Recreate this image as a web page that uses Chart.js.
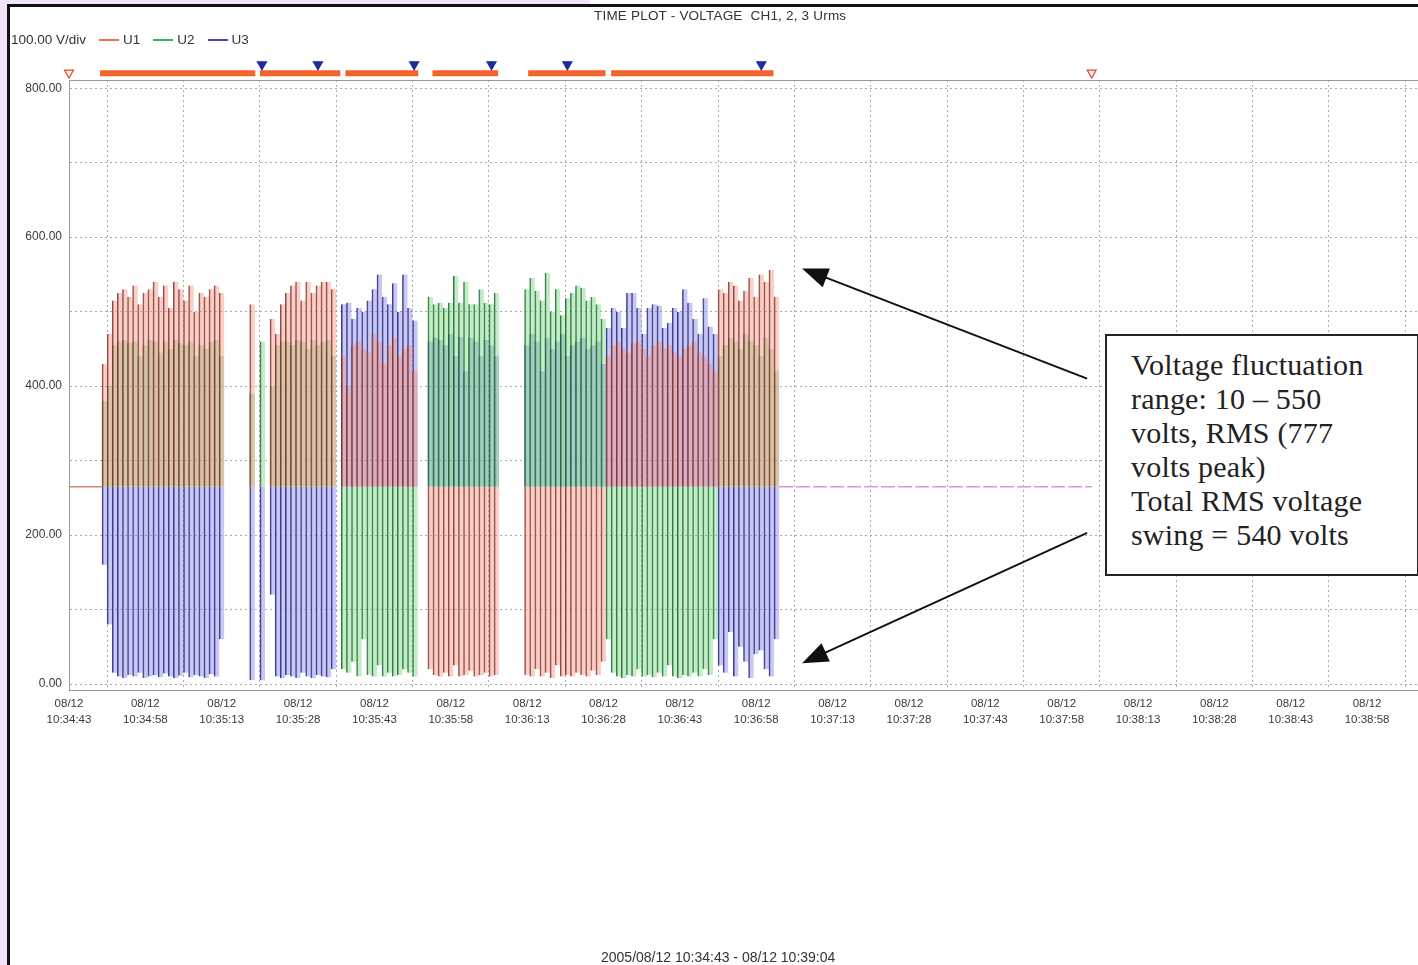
<!DOCTYPE html>
<html>
<head>
<meta charset="utf-8">
<script src="https://cdn.jsdelivr.net/npm/chart.js@4.4.1/dist/chart.umd.min.js"></script>
<style>
  body { margin: 0; background: #efe4f8; font-family: Arial, "Liberation Sans", sans-serif; }
  #frame { position: absolute; left: 7px; top: 4px; width: 1420px; height: 970px; background: #fff;
           border-top: 3px solid #111; border-left: 3px solid #111; }
  #topwhite { position: absolute; left: 590px; top: 0; width: 900px; height: 4px; background: #fff; }
  #chart { position: absolute; left: 0; top: 0; }
  .txt { position: absolute; font-size: 12px; color: #333; white-space: nowrap; }
  #legend span.ln { display: inline-block; width: 20px; height: 2px; vertical-align: middle; margin: 0 4px 0 13px; }
  #note { position: absolute; left: 1105px; top: 334px; width: 286px; height: 218px; background: #fff;
          border: 2px solid #222; padding: 12px 0 8px 24px; letter-spacing: 0.2px;
          font-family: "Liberation Serif", "Times New Roman", serif; font-size: 30px; line-height: 34px; color: #222; }
</style>
</head>
<body>
<div id="frame"></div>
<div id="topwhite"></div>
<canvas id="chart" width="1418" height="965"></canvas>
<div class="txt" style="left:594px; top:8px; font-size:13.5px; letter-spacing:0.2px;">TIME PLOT - VOLTAGE&nbsp; CH1, 2, 3 Urms</div>
<div class="txt" id="legend" style="left:11px; top:32px; font-size:13.5px;">100.00 V/div<span class="ln" style="background:#e8704a"></span>U1<span class="ln" style="background:#2cb05a"></span>U2<span class="ln" style="background:#4a4aa8"></span>U3</div>
<div class="txt" style="left:601px; top:949px; font-size:14px;">2005/08/12 10:34:43 - 08/12 10:39:04</div>
<div id="note">Voltage fluctuation<br>range: 10 &ndash; 550<br>volts, RMS (777<br>volts peak)<br>Total RMS voltage<br>swing = 540 volts</div>
<script>
// seconds after 10:34:43, one sample per second
const SAMPLE_START = 7;
const BASE = 265; // idle RMS level, bars are drawn from here to the sample value

const u1 = [
  // t 7-30
  430, 470, 515, 525, 530, 520, 535, 510, 525, 530, 540, 520, 535, 505, 540, 530, 515, 535, 500, 525, 520, 530, 535, 525,
  // t 31-39
  null, null, null, null, null, 510, null, null, null,
  // t 40-52
  490, 470, 510, 525, 535, 540, 515, 540, 525, 535, 540, 540, 530,
  null,
  // t 54-68
  440, 400, 455, 460, 450, 445, 470, 460, 430, 455, 465, 440, 450, 455, 420,
  null, null,
  // t 71-84
  20, 12, 10, 15, 10, 25, 10, 12, 18, 10, 12, 15, 10, 12,
  null, null, null, null, null,
  // t 90-105
  12, 10, 20, 10, 15, 8, 25, 10, 12, 10, 15, 12, 10, 18, 12, 30,
  // t 106-127
  440, 455, 460, 450, 445, 458, 460, 450, 440, 455, 460, 450, 455, 445, 440, 450, 455, 460, 445, 440, 430, 420,
  // t 128-139
  530, 525, 540, 535, 515, 528, 545, 520, 550, 540, 556, 520
];
const u2 = [
  380, 400, 455, 460, 462, 458, 460, 440, 455, 462, 460, 445, 460, 450, 462, 458, 455, 460, 440, 455, 450, 460, 462, 440,
  null, null, null, null, null, 390, null, 460, null,
  400, 455, 460, 460, 455, 462, 460, 450, 462, 455, 460, 462, 440,
  null,
  20, 15, 30, 10, 60, 12, 10, 25, 10, 15, 10, 12, 20, 15, 10,
  null, null,
  520, 510, 512, 505, 512, 548, 512, 540, 510, 510, 530, 512, 510, 525,
  null, null, null, null, null,
  530, 545, 528, 515, 552, 500, 530, 495, 518, 525, 535, 532, 515, 520, 510, 490,
  60, 15, 10, 8, 12, 10, 20, 10, 12, 9, 15, 10, 25, 10, 8, 12, 10, 15, 10, 20, 12, 60,
  440, 455, 465, 460, 450, 470, 460, 455, 440, 465, 450, 420
];
const u3 = [
  160, 80, 15, 10, 8, 12, 10, 15, 8, 10, 12, 9, 14, 10, 8, 11, 15, 9, 12, 10, 8, 13, 10, 60,
  null, null, null, null, null, 5, null, 5, null,
  120, 10, 8, 12, 10, 8, 15, 10, 8, 12, 10, 9, 20,
  null,
  510, 512, 490, 505, 500, 515, 530, 550, 520, 510, 538, 500, 550, 505, 488,
  null, null,
  460, 465, 462, 455, 470, 440, 466, 420, 465, 460, 440, 462, 455, 440,
  null, null, null, null, null,
  455, 470, 460, 420, 465, 450, 460, 470, 440, 455, 460, 465, 450, 455, 460, 430,
  478, 505, 500, 478, 525, 525, 505, 470, 505, 510, 508, 478, 485, 505, 500, 530, 512, 490, 470, 518, 480, 470,
  25, 15, 70, 10, 50, 30, 8, 40, 45, 20, 10, 60
];

// idle stretches at the BASE level (seconds)
const idleBefore = [0, 6.5];
const idleAfter = [139.5, 201];

// event markers along the top
const recordSpans = [[6.1, 36.6], [37.5, 53.3], [54.3, 68.6], [71.4, 84.3], [90.2, 105.4], [106.5, 138.4]];
const blueMarks = [37.9, 48.9, 67.8, 83.0, 97.9, 136.0];
const redMarks = [0, 200.9];

const xTickTimes = ['10:34:43', '10:34:58', '10:35:13', '10:35:28', '10:35:43', '10:35:58', '10:36:13', '10:36:28',
  '10:36:43', '10:36:58', '10:37:13', '10:37:28', '10:37:43', '10:37:58', '10:38:13', '10:38:28', '10:38:43', '10:38:58'];
const yTickLabels = ['0.00', '200.00', '400.00', '600.00', '800.00'];

// arrows from the note box to the swing extremes, in data units
const arrows = [
  { from: [200, 410], to: [144, 558] },
  { from: [200, 203], to: [144, 28] }
];

function toBars(vals) {
  const out = [];
  vals.forEach((v, i) => { if (v != null) out.push({ x: SAMPLE_START + i, y: [BASE, v] }); });
  return out;
}
function barSet(label, vals, fill, line) {
  return {
    type: 'bar', label, data: toBars(vals), grouped: false,
    backgroundColor: fill, borderColor: line,
    borderWidth: { left: 1, right: 0, top: 0, bottom: 0 }, borderSkipped: false,
    categoryPercentage: 1, barPercentage: 1, order: 3
  };
}

const markerY = 820;
const spanData = [];
recordSpans.forEach(s => { spanData.push({ x: s[0], y: markerY }, { x: s[1], y: markerY }, { x: s[1], y: null }); });

function downTriangle(ctx, x, y, fill, stroke) {
  ctx.beginPath();
  ctx.moveTo(x - 4.5, y - 4);
  ctx.lineTo(x + 4.5, y - 4);
  ctx.lineTo(x, y + 4);
  ctx.closePath();
  ctx.fillStyle = fill;
  ctx.fill();
  ctx.strokeStyle = stroke;
  ctx.lineWidth = 1.2;
  ctx.stroke();
}

const plotFrame = {
  id: 'plotFrame',
  afterDatasetsDraw(chart) {
    const { ctx, chartArea: a, scales } = chart;
    ctx.save();
    ctx.strokeStyle = '#9a9a9a';
    ctx.lineWidth = 1;
    ctx.beginPath();
    ctx.moveTo(a.left, a.top + 0.5);
    ctx.lineTo(a.right, a.top + 0.5);
    ctx.stroke();
    blueMarks.forEach(t => downTriangle(ctx, scales.x.getPixelForValue(t), scales.y.getPixelForValue(830), '#1f2c9a', '#1f2c9a'));
    redMarks.forEach(t => downTriangle(ctx, scales.x.getPixelForValue(t), scales.y.getPixelForValue(819), 'rgba(255,240,230,0.9)', '#e04a30'));
    ctx.fillStyle = '#111';
    ctx.strokeStyle = '#111';
    arrows.forEach(ar => {
      const x0 = scales.x.getPixelForValue(ar.from[0]), y0 = scales.y.getPixelForValue(ar.from[1]);
      const x1 = scales.x.getPixelForValue(ar.to[0]), y1 = scales.y.getPixelForValue(ar.to[1]);
      const ang = Math.atan2(y1 - y0, x1 - x0);
      const len = 26, hw = 10;
      ctx.lineWidth = 2;
      ctx.beginPath();
      ctx.moveTo(x0, y0);
      ctx.lineTo(x1 - Math.cos(ang) * len * 0.8, y1 - Math.sin(ang) * len * 0.8);
      ctx.stroke();
      ctx.beginPath();
      ctx.moveTo(x1, y1);
      ctx.lineTo(x1 - Math.cos(ang) * len - Math.sin(ang) * hw, y1 - Math.sin(ang) * len + Math.cos(ang) * hw);
      ctx.lineTo(x1 - Math.cos(ang) * len + Math.sin(ang) * hw, y1 - Math.sin(ang) * len - Math.cos(ang) * hw);
      ctx.closePath();
      ctx.fill();
    });
    ctx.restore();
  }
};

new Chart(document.getElementById('chart'), {
  type: 'bar',
  data: {
    datasets: [
      barSet('U1', u1, 'rgba(245,140,120,0.42)', 'rgba(120,55,55,0.9)'),
      barSet('U2', u2, 'rgba(110,215,120,0.42)', 'rgba(35,100,55,0.9)'),
      barSet('U3', u3, 'rgba(125,125,230,0.42)', 'rgba(40,40,120,0.9)'),
      { type: 'line', label: 'idle', data: [{ x: idleBefore[0], y: BASE }, { x: idleBefore[1], y: BASE }],
        borderColor: '#d9837a', borderWidth: 1.5, pointRadius: 0, order: 2 },
      { type: 'line', label: 'idle2', data: [{ x: idleAfter[0], y: BASE }, { x: idleAfter[1], y: BASE }],
        borderColor: '#c9a0d8', borderWidth: 1.5, borderDash: [14, 3], pointRadius: 0, order: 2 },
      { type: 'line', label: 'rec', data: spanData, borderColor: '#f2642a', borderWidth: 6,
        pointRadius: 0, spanGaps: false, clip: false, order: 1 }
    ]
  },
  options: {
    responsive: false,
    animation: false,
    devicePixelRatio: 1,
    layout: { padding: { left: 0, right: 0, top: 80, bottom: 235 } },
    plugins: { legend: { display: false }, tooltip: { enabled: false } },
    scales: {
      x: {
        type: 'linear', min: 0, max: 265, offset: false,
        afterBuildTicks: s => { s.ticks = xTickTimes.map((_, i) => ({ value: i * 15 })); },
        afterFit: s => { s.height = 40; },
        grid: { color: 'rgba(140,140,140,0.75)', drawTicks: false },
        border: { color: '#9a9a9a', dash: [2, 3] },
        ticks: {
          autoSkip: false, maxRotation: 0, padding: 6, color: '#3a3a3a',
          font: { size: 11.5, family: 'Arial, "Liberation Sans", sans-serif', lineHeight: 1.4 },
          callback: v => ['08/12', xTickTimes[Math.round(v / 15)]]
        }
      },
      y: {
        min: -8, max: 811,
        afterBuildTicks: s => { s.ticks = [0, 100, 200, 300, 400, 500, 600, 700, 800].map(v => ({ value: v })); },
        afterFit: s => { s.width = 69; },
        grid: { color: 'rgba(140,140,140,0.75)', drawTicks: false },
        border: { color: '#9a9a9a', dash: [2, 3] },
        ticks: {
          padding: 7, color: '#3a3a3a', font: { size: 12, family: 'Arial, "Liberation Sans", sans-serif' },
          callback: v => (v % 200 === 0 ? yTickLabels[v / 200] : '')
        }
      }
    }
  },
  plugins: [plotFrame]
});
</script>
</body>
</html>
